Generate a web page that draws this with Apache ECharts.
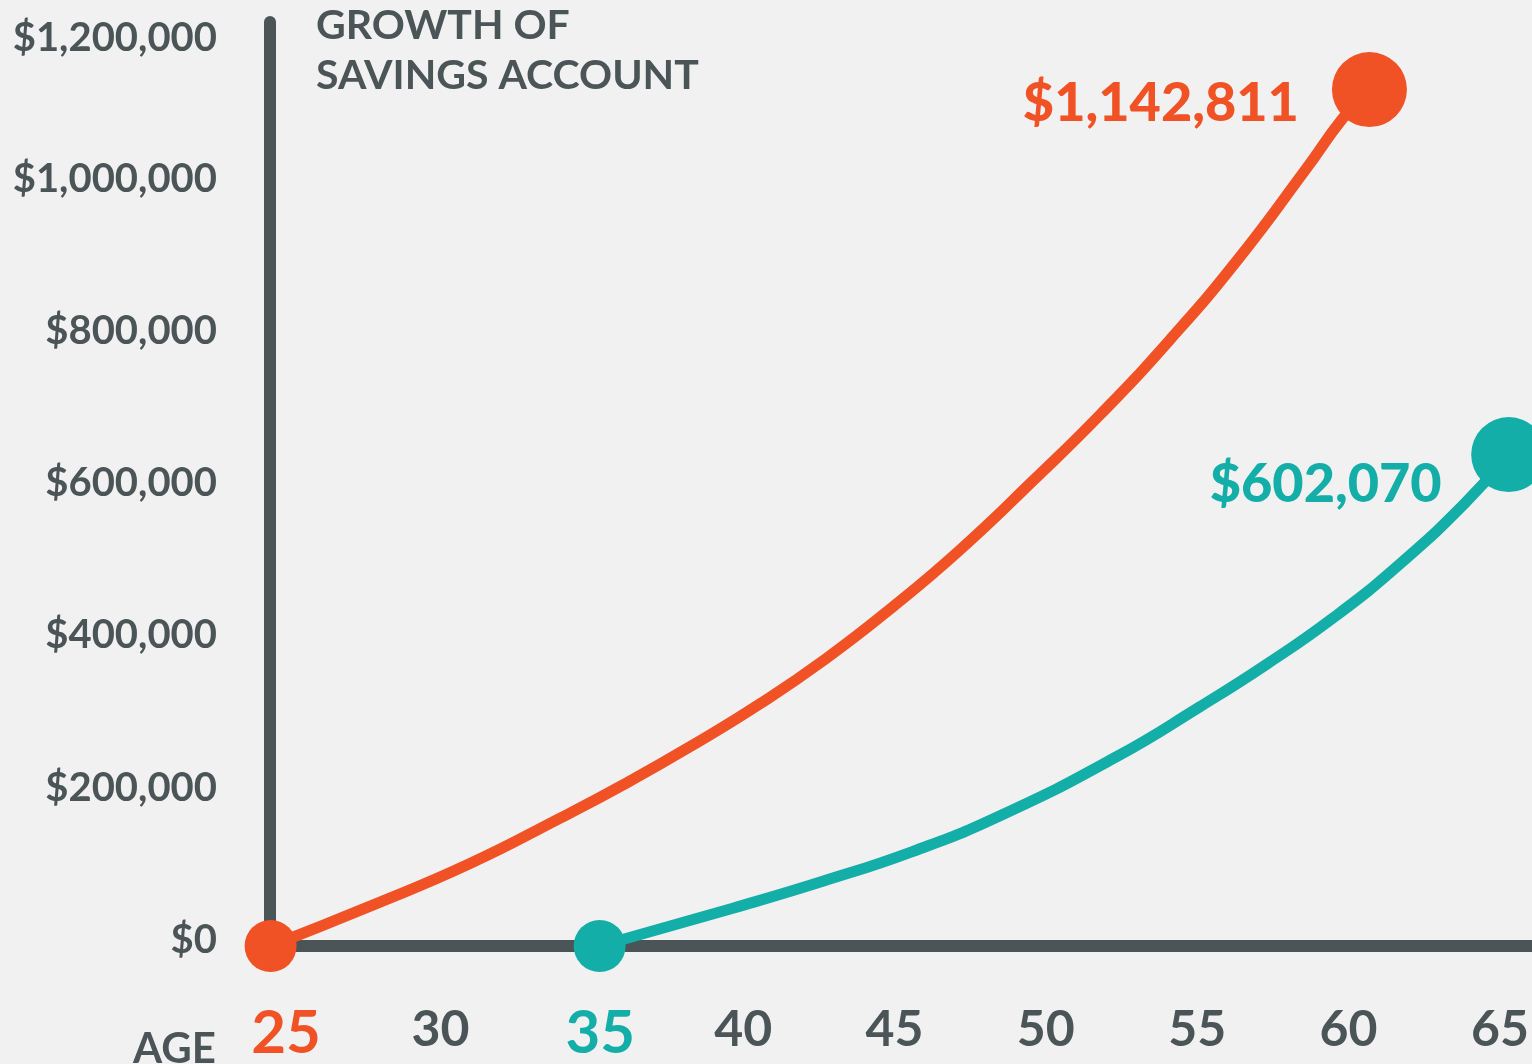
<!DOCTYPE html>
<html>
<head>
<meta charset="utf-8">
<title>Growth of savings account</title>
<script src="https://cdn.jsdelivr.net/npm/echarts@6/dist/echarts.min.js"></script>
<style>
  html, body { margin: 0; padding: 0; background: #f1f1f1; }
  #chart { width: 1532px; height: 1064px; }
</style>
</head>
<body>
<div id="chart"></div>
<script>
// values (age, balance in $)
const startAt25Ages = [24.39, 27.66, 30.96, 33.94, 36.14, 38.34, 40.55, 42.75, 44.95, 47.16, 49.60, 51.84, 54.09, 56.33, 58.57, 59.81, 60.69];
const startAt25Values = [0, 52000, 108000, 167700, 214000, 264000, 318000, 377900, 445700, 520200, 612100, 699800, 796000, 901100, 1019300, 1087300, 1125100];
const startAt35Ages = [35.26, 39.69, 42.63, 45.59, 48.54, 52.34, 55.09, 57.29, 59.49, 61.70, 63.90, 65.29];
const startAt35Values = [0, 50000, 85000, 124000, 172000, 248700, 314300, 370000, 431000, 502000, 584000, 645500];
const finalLabels = ['$1,142,811', '$602,070'];

const ageTicks = [25, 30, 35, 40, 45, 50, 55, 60, 65];
const moneyTicks = [0, 200000, 400000, 600000, 800000, 1000000, 1200000];

const ORANGE = '#f05225';
const TEAL = '#14aea8';
const GRAY = '#4b5557';
const FONT = 'Lato, "Open Sans", sans-serif';

function buildData(ages, values, label, color, dx, dy) {
  const last = ages.length - 1;
  return ages.map((a, i) => {
    const item = { value: [a, values[i]] };
    if (i === last) {
      item.label = {
        show: true,
        position: 'left',
        distance: dx,
        offset: [0, dy],
        formatter: label,
        color: color,
        fontFamily: FONT,
        fontSize: 54,
        fontWeight: 900
      };
    }
    return item;
  });
}

function dotSize(last) {
  return (val, params) => {
    if (params.dataIndex === 0) return 52;
    if (params.dataIndex === last) return 75;
    return 0;
  };
}

const chart = echarts.init(document.getElementById('chart'));

chart.setOption({
  animation: false,
  backgroundColor: '#f1f1f1',
  title: {
    text: 'GROWTH OF\nSAVINGS ACCOUNT',
    left: 316,
    top: 1,
    padding: 0,
    textStyle: {
      color: GRAY,
      fontFamily: FONT,
      fontSize: 41,
      fontWeight: 'bold',
      lineHeight: 50
    }
  },
  graphic: [
    {
      type: 'text',
      x: 216,
      y: 1049,
      style: {
        text: 'AGE',
        align: 'right',
        verticalAlign: 'middle',
        fill: GRAY,
        font: 'bold 42px ' + FONT
      }
    }
  ],
  grid: {
    left: 270,
    right: 0,
    top: 22,
    bottom: 118,
    containLabel: false,
    outerBoundsMode: 'none'
  },
  xAxis: {
    type: 'value',
    min: 24.37,
    max: 66.06,
    splitLine: { show: false },
    axisTick: { show: false },
    axisLine: { onZero: false, lineStyle: { color: GRAY, width: 12 } },
    axisLabel: {
      customValues: ageTicks,
      margin: 59,
      formatter: (v) => {
        if (v === 25) return '{o|' + v + '}';
        if (v === 35) return '{t|' + v + '}';
        return '{n|' + v + '}';
      },
      rich: {
        n: { color: GRAY, fontFamily: FONT, fontSize: 50, fontWeight: 'bold', lineHeight: 50 },
        o: { color: ORANGE, fontFamily: FONT, fontSize: 60, fontWeight: 'bold', lineHeight: 58, padding: [0, 6, 0, 0] },
        t: { color: TEAL, fontFamily: FONT, fontSize: 60, fontWeight: 'bold', lineHeight: 58, padding: [0, 0, 0, 17] }
      }
    }
  },
  yAxis: {
    type: 'value',
    min: 0,
    max: 1213800,
    splitLine: { show: false },
    axisTick: { show: false },
    axisLine: { show: true, lineStyle: { color: GRAY, width: 12, cap: 'round' } },
    axisLabel: {
      customValues: moneyTicks,
      margin: 53,
      formatter: (v) => {
        const s = '$' + v.toLocaleString('en-US');
        return v === 1200000 ? '{top|' + s + '}' : '{a|' + s + '}';
      },
      rich: {
        a: { color: GRAY, fontFamily: FONT, fontSize: 40, fontWeight: 'bold', padding: [0, 0, 12, 0] },
        top: { color: GRAY, fontFamily: FONT, fontSize: 40, fontWeight: 'bold', padding: [11, 0, 0, 0] }
      }
    }
  },
  series: [
    {
      name: 'Start at 35',
      type: 'line',
      data: buildData(startAt35Ages, startAt35Values, finalLabels[1], TEAL, 29.5, 29.5),
      smooth: 0.5,
      clip: false,
      showAllSymbol: true,
      symbol: 'circle',
      symbolSize: dotSize(startAt35Ages.length - 1),
      lineStyle: { color: TEAL, width: 11 },
      itemStyle: { color: TEAL },
      emphasis: { disabled: true }
    },
    {
      name: 'Start at 25',
      type: 'line',
      data: buildData(startAt25Ages, startAt25Values, finalLabels[0], ORANGE, 33, 14),
      smooth: 0.5,
      clip: false,
      showAllSymbol: true,
      symbol: 'circle',
      symbolSize: dotSize(startAt25Ages.length - 1),
      lineStyle: { color: ORANGE, width: 11 },
      itemStyle: { color: ORANGE },
      emphasis: { disabled: true }
    }
  ]
});
</script>
</body>
</html>
